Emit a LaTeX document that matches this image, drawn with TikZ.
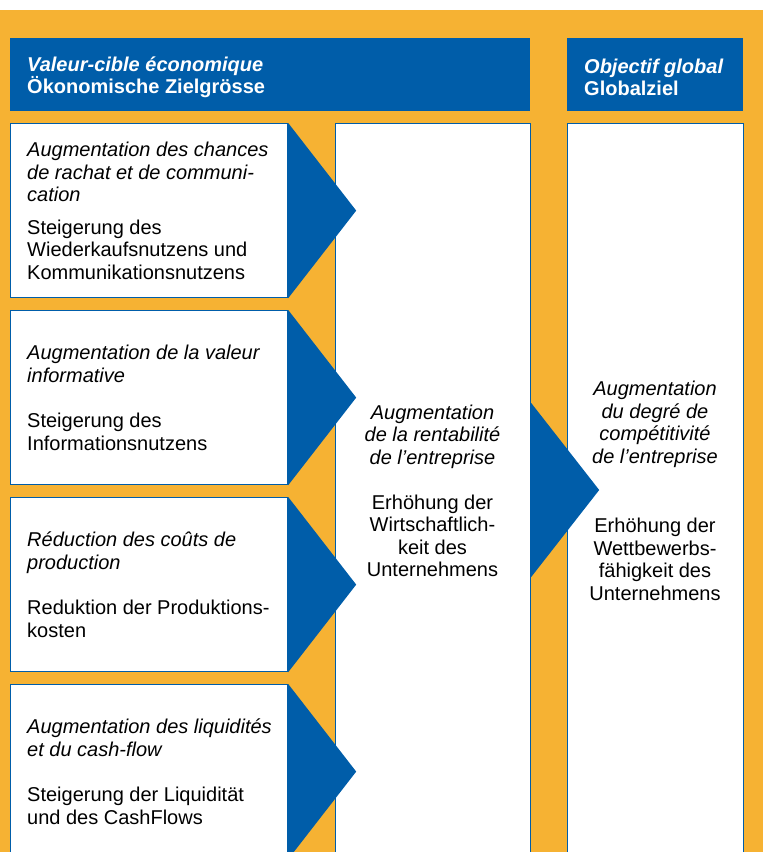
\documentclass[tikz,border=0pt]{standalone}
\usepackage{fontspec}
\setmainfont{Liberation Sans}
\definecolor{orng}{HTML}{F6B233}
\definecolor{blu}{HTML}{005DA9}
\begin{document}
\begin{tikzpicture}[x=1pt,y=-1pt,
  every node/.style={font=\fontsize{20}{22.5}\selectfont},
  hdr/.style={fill=blu, minimum height=73pt, inner sep=0pt, anchor=north west},
  hdrtxt/.style={text=white, align=left, inner sep=0pt, anchor=west},
  leftbox/.style={draw=blu, line width=1.2pt, fill=white, minimum width=277pt, minimum height=174pt, inner sep=0pt, anchor=north west},
  boxtxt/.style={align=left, inner sep=0pt, anchor=west},
  colbox/.style={draw=blu, line width=1.2pt, fill=white, minimum height=760pt, anchor=north west, inner sep=0pt},
  coltxt/.style={align=center, inner sep=0pt},
  arrowtri/.style={fill=blu}
]
\path[use as bounding box] (0,0) rectangle (763,852);
\clip (0,0) rectangle (763,852);
\fill[white] (0,0) rectangle (763,852);
\fill[orng] (0,10) rectangle (763,852);

% headers
\node[hdr, minimum width=520pt] (h1) at (10,38) {};
\node[hdrtxt] (h1t) at ([xshift=17pt,yshift=-2.5pt]h1.west)
  {\textbf{\textit{Valeur-cible économique}}\\\textbf{Ökonomische Zielgrösse}};
\node[hdr, minimum width=176pt] (h2) at (567,38) {};
\node[hdrtxt] (h2t) at ([xshift=17pt,yshift=-2.5pt]h2.west)
  {\textbf{\textit{Objectif global}}\\\textbf{Globalziel}};

% columns
\node[colbox, minimum width=195pt] (mid) at (335,123) {};
\node[colbox, minimum width=176pt] (glob) at (567,123) {};

% left boxes
\node[leftbox] (b1) at (10,123) {};
\node[boxtxt] (t1) at ([xshift=17pt]b1.west)
  {\textit{Augmentation des chances}\\\textit{de rachat et de communi-}\\\textit{cation}\\[10pt]
   Steigerung des\\Wiederkaufsnutzens und\\Kommunikationsnutzens};
\node[leftbox] (b2) at (10,310) {};
\node[boxtxt] (t2) at ([xshift=17pt]b2.west)
  {\textit{Augmentation de la valeur}\\\textit{informative}\\[23pt]
   Steigerung des\\Informationsnutzens};
\node[leftbox] (b3) at (10,497) {};
\node[boxtxt] (t3) at ([xshift=17pt]b3.west)
  {\textit{Réduction des coûts de}\\\textit{production}\\[23pt]
   Reduktion der Produktions-\\kosten};
\node[leftbox] (b4) at (10,684) {};
\node[boxtxt] (t4) at ([xshift=17pt]b4.west)
  {\textit{Augmentation des liquidités}\\\textit{et du cash-flow}\\[23pt]
   Steigerung der Liquidität\\und des CashFlows};

% arrows from left boxes into middle column
\foreach \b in {b1,b2,b3,b4}{
  \fill[arrowtri] (\b.north east) -- ([xshift=68pt]\b.east) -- (\b.south east) -- cycle;
}

% middle text
\node[coltxt] (mt) at (432.5,491)
  {\textit{Augmentation}\\\textit{de la rentabilité}\\\textit{de l’entreprise}\\[22.5pt]
   Erhöhung der\\Wirtschaftlich-\\keit des\\Unternehmens};

% arrow from middle column to global column
\coordinate (a2) at (mid.east |- 0,490);
\fill[arrowtri] ([yshift=87pt]a2) -- ([xshift=68pt]a2) -- ([yshift=-87pt]a2) -- cycle;

% right text
\node[coltxt] (gt) at (655,491)
  {\textit{Augmentation}\\\textit{du degré de}\\\textit{compétitivité}\\\textit{de l’entreprise}\\[47pt]
   Erhöhung der\\Wettbewerbs-\\fähigkeit des\\Unternehmens};
\end{tikzpicture}
\end{document}
